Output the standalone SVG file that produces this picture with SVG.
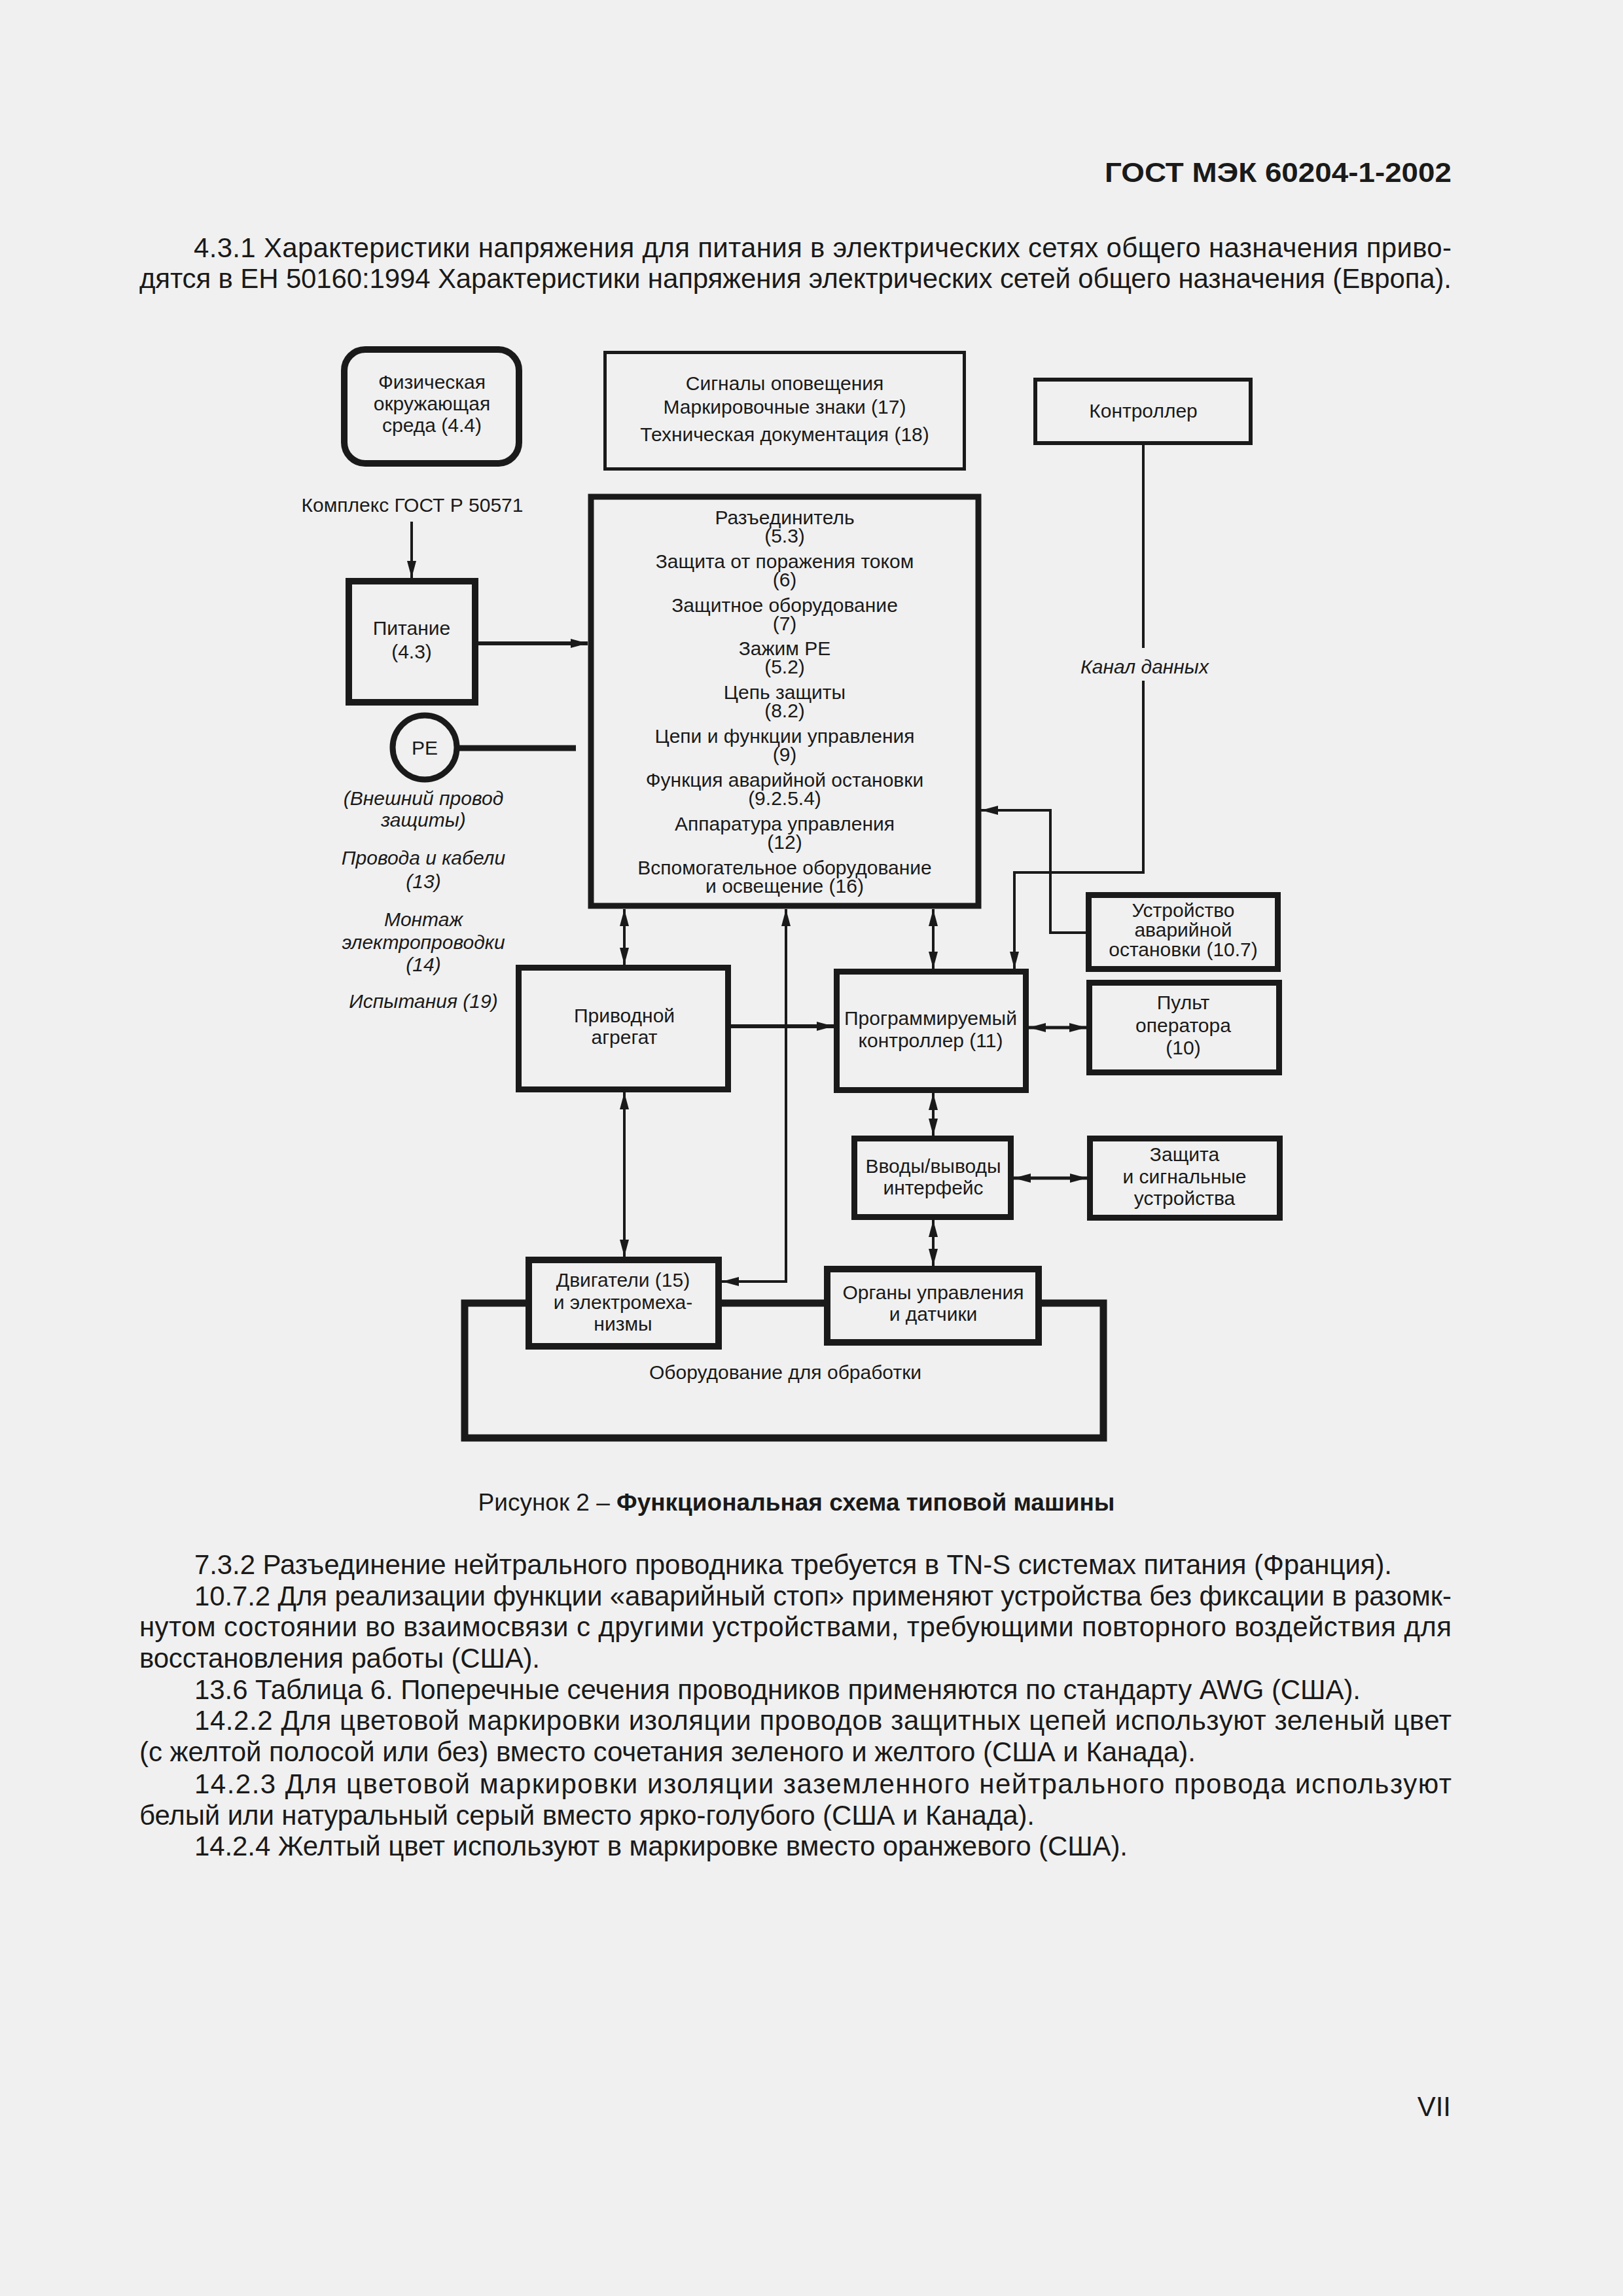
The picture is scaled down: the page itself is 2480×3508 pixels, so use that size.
<svg xmlns="http://www.w3.org/2000/svg" width="2480" height="3508" viewBox="0 0 2480 3508">
<style>
.t{font-family:"Liberation Sans",Arial,sans-serif;fill:#1a1a1a}
.body{font-size:42px}
.d{font-size:30px;text-anchor:middle}
.i{font-style:italic}
.b{font-weight:bold}
.box{fill:#f0f0f0;stroke:#1a1a1a;stroke-width:9}
.ln{fill:none;stroke:#1a1a1a;stroke-width:4}
.a2{marker-start:url(#ah);marker-end:url(#ah)}
.a1{marker-end:url(#ah)}
</style>
<defs>
<marker id="ah" viewBox="0 0 26 14" refX="26" refY="7" markerWidth="26" markerHeight="14" markerUnits="userSpaceOnUse" orient="auto-start-reverse">
<path d="M0,0 L26,7 L0,14 z" fill="#1a1a1a"/>
</marker>
</defs>
<rect x="0" y="0" width="2480" height="3508" fill="#f0f0f0"/>

<g id="page-text" class="t">
<text class="b" x="1688" y="278" font-size="43" textLength="530" lengthAdjust="spacingAndGlyphs">ГОСТ МЭК 60204-1-2002</text>
<text class="body" x="296" y="393" textLength="1922" lengthAdjust="spacing">4.3.1 Характеристики напряжения для питания в электрических сетях общего назначения приво-</text>
<text class="body" x="213" y="440" textLength="2005" lengthAdjust="spacing">дятся в ЕН 50160:1994 Характеристики напряжения электрических сетей общего назначения (Европа).</text>
<text class="body" x="297" y="2405" textLength="1830" lengthAdjust="spacing">7.3.2 Разъединение нейтрального проводника требуется в TN-S системах питания (Франция).</text>
<text class="body" x="297" y="2453" textLength="1921" lengthAdjust="spacing">10.7.2 Для реализации функции «аварийный стоп» применяют устройства без фиксации в разомк-</text>
<text class="body" x="213" y="2500" textLength="2005" lengthAdjust="spacing">нутом состоянии во взаимосвязи с другими устройствами, требующими повторного воздействия для</text>
<text class="body" x="213" y="2548" textLength="612" lengthAdjust="spacing">восстановления работы (США).</text>
<text class="body" x="297" y="2596" textLength="1782" lengthAdjust="spacing">13.6 Таблица 6. Поперечные сечения проводников применяются по стандарту AWG (США).</text>
<text class="body" x="297" y="2643" textLength="1921" lengthAdjust="spacing">14.2.2 Для цветовой маркировки изоляции проводов защитных цепей используют зеленый цвет</text>
<text class="body" x="213" y="2691" textLength="1614" lengthAdjust="spacing">(с желтой полосой или без) вместо сочетания зеленого и желтого (США и Канада).</text>
<text class="body" x="297" y="2740" textLength="1921" lengthAdjust="spacing">14.2.3 Для цветовой маркировки изоляции заземленного нейтрального провода используют</text>
<text class="body" x="213" y="2788" textLength="1368" lengthAdjust="spacing">белый или натуральный серый вместо ярко-голубого (США и Канада).</text>
<text class="body" x="297" y="2835" textLength="1426" lengthAdjust="spacing">14.2.4 Желтый цвет используют в маркировке вместо оранжевого (США).</text>
<text x="2217" y="3233" font-size="42" text-anchor="end">VII</text>
<text x="1217" y="2308" font-size="37" text-anchor="middle">Рисунок 2 – <tspan class="b">Функциональная схема типовой машины</tspan></text>
</g>

<g id="processing-equipment">
<rect x="710" y="1991" width="976" height="206" fill="none" stroke="#1a1a1a" stroke-width="11"/>
<text class="t d" x="1200" y="2107">Оборудование для обработки</text>
</g>

<g id="connectors">
<path class="ln a1" d="M629,797 L629,883"/>
<path class="ln a1" style="stroke-width:6" d="M731,983 L898,983"/>
<path class="ln" style="stroke-width:9" d="M698,1143 L880,1143"/>
<path class="ln" d="M1747,680 L1747,990"/>
<path class="ln a1" d="M1747,1040 L1747,1333 L1550,1333 L1550,1480"/>
<path class="ln a1" d="M1659,1425 L1605,1425 L1605,1238 L1499,1238"/>
<path class="ln a2" d="M954,1389 L954,1474"/>
<path class="ln a2" d="M1426,1389 L1426,1480"/>
<path class="ln a2" d="M1103,1958 L1201,1958 L1201,1389"/>
<path class="ln a1" style="stroke-width:6" d="M1117,1568 L1274,1568"/>
<path class="ln a2" style="stroke-width:5" d="M1572,1570 L1660,1570"/>
<path class="ln a2" d="M954,1669 L954,1920"/>
<path class="ln a2" d="M1426,1670 L1426,1735"/>
<path class="ln a2" style="stroke-width:5" d="M1549,1800 L1661,1800"/>
<path class="ln a2" d="M1426,1864 L1426,1934"/>
<text class="t d i" x="1749" y="1029">Канал данных</text>
</g>

<g id="physical-environment">
<rect class="box" x="526" y="534" width="267" height="174" rx="32" style="stroke-width:10"/>
<text class="t d" x="660" y="594">Физическая</text>
<text class="t d" x="660" y="627">окружающая</text>
<text class="t d" x="660" y="660">среда (4.4)</text>
</g>

<g id="signals">
<rect class="box" x="924.5" y="538.5" width="549" height="178" style="stroke-width:5"/>
<text class="t d" x="1199" y="596">Сигналы оповещения</text>
<text class="t d" x="1199" y="632">Маркировочные знаки (17)</text>
<text class="t d" x="1199" y="674">Техническая документация (18)</text>
</g>

<g id="controller">
<rect class="box" x="1582" y="580" width="329" height="97" style="stroke-width:6"/>
<text class="t d" x="1747" y="638">Контроллер</text>
</g>

<g id="gost-complex">
<text class="t d" x="630" y="782">Комплекс ГОСТ Р 50571</text>
</g>

<g id="power">
<rect class="box" x="533" y="888" width="193" height="185" style="stroke-width:10"/>
<text class="t d" x="629" y="970">Питание</text>
<text class="t d" x="629" y="1006">(4.3)</text>
</g>

<g id="main-block">
<rect class="box" x="903" y="759" width="592" height="625"/>
<text class="t d" x="1199" y="801">Разъединитель</text>
<text class="t d" x="1199" y="829">(5.3)</text>
<text class="t d" x="1199" y="868">Защита от поражения током</text>
<text class="t d" x="1199" y="896">(6)</text>
<text class="t d" x="1199" y="935">Защитное оборудование</text>
<text class="t d" x="1199" y="963">(7)</text>
<text class="t d" x="1199" y="1001">Зажим PE</text>
<text class="t d" x="1199" y="1029">(5.2)</text>
<text class="t d" x="1199" y="1068">Цепь защиты</text>
<text class="t d" x="1199" y="1096">(8.2)</text>
<text class="t d" x="1199" y="1135">Цепи и функции управления</text>
<text class="t d" x="1199" y="1163">(9)</text>
<text class="t d" x="1199" y="1202">Функция аварийной остановки</text>
<text class="t d" x="1199" y="1230">(9.2.5.4)</text>
<text class="t d" x="1199" y="1269">Аппаратура управления</text>
<text class="t d" x="1199" y="1297">(12)</text>
<text class="t d" x="1199" y="1336">Вспомогательное оборудование</text>
<text class="t d" x="1199" y="1364">и освещение (16)</text>
</g>

<g id="pe">
<circle cx="649" cy="1142" r="49" fill="#f0f0f0" stroke="#1a1a1a" stroke-width="9"/>
<text class="t d" x="649" y="1153">PE</text>
</g>

<g id="side-notes">
<text class="t d i" x="647" y="1230">(Внешний провод</text>
<text class="t d i" x="647" y="1263">защиты)</text>
<text class="t d i" x="647" y="1321">Провода и кабели</text>
<text class="t d i" x="647" y="1357">(13)</text>
<text class="t d i" x="647" y="1415">Монтаж</text>
<text class="t d i" x="647" y="1450">электропроводки</text>
<text class="t d i" x="647" y="1484">(14)</text>
<text class="t d i" x="647" y="1540">Испытания (19)</text>
</g>

<g id="emergency-stop">
<rect class="box" x="1663.5" y="1367.5" width="289" height="113"/>
<text class="t d" x="1808" y="1401">Устройство</text>
<text class="t d" x="1808" y="1431">аварийной</text>
<text class="t d" x="1808" y="1461">остановки (10.7)</text>
</g>

<g id="drive">
<rect class="box" x="792.5" y="1478.5" width="320" height="186"/>
<text class="t d" x="954" y="1562">Приводной</text>
<text class="t d" x="954" y="1595">агрегат</text>
</g>

<g id="plc">
<rect class="box" x="1278.5" y="1484.5" width="289" height="181"/>
<text class="t d" x="1422" y="1566">Программируемый</text>
<text class="t d" x="1422" y="1600">контроллер (11)</text>
</g>

<g id="operator-panel">
<rect class="box" x="1664.5" y="1501.5" width="290" height="137"/>
<text class="t d" x="1808" y="1542">Пульт</text>
<text class="t d" x="1808" y="1577">оператора</text>
<text class="t d" x="1808" y="1611">(10)</text>
</g>

<g id="io-interface">
<rect class="box" x="1305.5" y="1739.5" width="239" height="120"/>
<text class="t d" x="1426" y="1792">Вводы/выводы</text>
<text class="t d" x="1426" y="1825">интерфейс</text>
</g>

<g id="protection-signals">
<rect class="box" x="1665.5" y="1739.5" width="290" height="121"/>
<text class="t d" x="1810" y="1774">Защита</text>
<text class="t d" x="1810" y="1808">и сигнальные</text>
<text class="t d" x="1810" y="1841">устройства</text>
</g>

<g id="motors">
<rect class="box" x="808" y="1925" width="290" height="132" style="stroke-width:10"/>
<text class="t d" x="952" y="1966">Двигатели (15)</text>
<text class="t d" x="952" y="2000">и электромеха-</text>
<text class="t d" x="952" y="2033">низмы</text>
</g>

<g id="sensors">
<rect class="box" x="1264" y="1939" width="323" height="112" style="stroke-width:10"/>
<text class="t d" x="1426" y="1985">Органы управления</text>
<text class="t d" x="1426" y="2018">и датчики</text>
</g>
</svg>
